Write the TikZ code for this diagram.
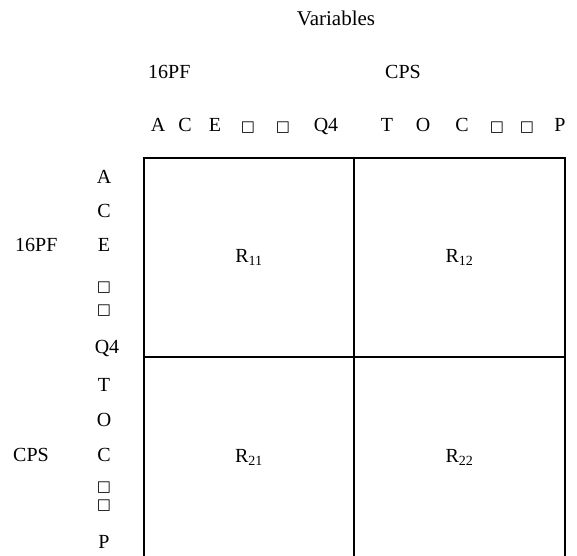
\documentclass[tikz,border=0pt]{standalone}
\usepackage{fontspec}
\setmainfont{Liberation Serif}
\newfontfamily\symfont{DejaVu Sans}
\newcommand{\sqbox}{{\symfont\fontsize{15}{16}\selectfont □}}
\begin{document}
\begin{tikzpicture}[x=1pt,y=-1pt,
  lbl/.style={anchor=base,inner sep=0pt,font=\fontsize{20}{22}\selectfont},
  lbll/.style={anchor=base west,inner sep=0pt,font=\fontsize{20}{22}\selectfont},
  cell/.style={inner sep=0pt,font=\fontsize{20}{22}\selectfont},
  grid/.style={line width=2.7pt}]
\useasboundingbox (0,0) rectangle (577,555);
% headings
\node[lbl,font=\fontsize{21}{23}\selectfont] (var) at (336,25) {Variables};
\node[lbll] (h16) at (148,78) {16PF};
\node[lbll] (hcps) at (385,78) {CPS};
% column labels
\node[lbl] (cA) at (158,131) {A};
\node[lbl] (cC) at (185,131) {C};
\node[lbl] (cE) at (215,131) {E};
\node[lbl] (cS1) at (248,131) {\sqbox};
\node[lbl] (cS2) at (283,131) {\sqbox};
\node[lbl] (cQ) at (326,131) {Q4};
\node[lbl] (cT) at (387,131) {T};
\node[lbl] (cO) at (423,131) {O};
\node[lbl] (cC2) at (462,131) {C};
\node[lbl] (cS3) at (497,131) {\sqbox};
\node[lbl] (cS4) at (527,131) {\sqbox};
\node[lbl] (cP) at (560,131) {P};
% row labels
\node[lbll] (r16) at (15,251) {16PF};
\node[lbll] (rcps) at (13,461) {CPS};
\node[lbl] (rA) at (104,183) {A};
\node[lbl] (rC) at (104,217) {C};
\node[lbl] (rE) at (104,251) {E};
\node[lbl] (rS1) at (104,291) {\sqbox};
\node[lbl] (rS2) at (104,314) {\sqbox};
\node[lbl] (rQ) at (107,353) {Q4};
\node[lbl] (rT) at (104,391) {T};
\node[lbl] (rO) at (104,426) {O};
\node[lbl] (rC2) at (104,461) {C};
\node[lbl] (rS3) at (104,491) {\sqbox};
\node[lbl] (rS4) at (104,509) {\sqbox};
\node[lbl] (rP) at (104,548) {P};
% grid
\draw[grid] (144,158) rectangle (565,558);
\draw[grid] (354,158) -- (354,558);
\draw[grid] (144,357) -- (565,357);
% cells
\node[cell] (R11) at (249,257.5) {R\textsubscript{11}};
\node[cell] (R12) at (459.5,257.5) {R\textsubscript{12}};
\node[cell] (R21) at (249,457) {R\textsubscript{21}};
\node[cell] (R22) at (459.5,457) {R\textsubscript{22}};
\end{tikzpicture}
\end{document}
